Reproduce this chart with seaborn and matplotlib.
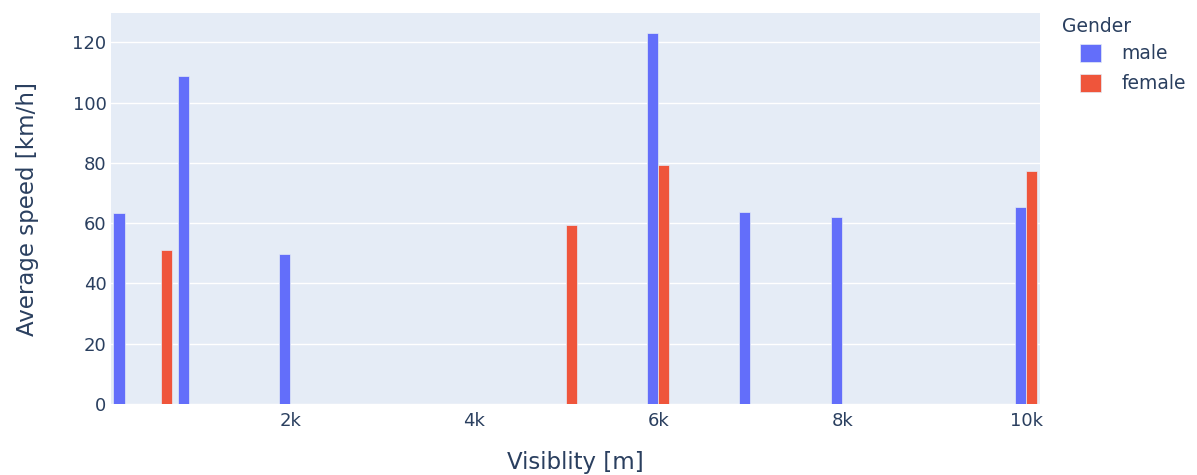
import matplotlib
matplotlib.use("Agg")
import matplotlib.pyplot as plt
import seaborn as sns
import pandas as pd

# ---- data ----
male_visibility = [200, 900, 2000, 6000, 7000, 8000, 10000]
male_speed = [63.3, 108.9, 49.7, 123.1, 63.8, 62.1, 65.3]
female_visibility = [600, 5000, 6000, 10000]
female_speed = [51.1, 59.4, 79.4, 77.3]
genders = ["male", "female"]
x_ticks = [2000, 4000, 6000, 8000, 10000]
x_tick_labels = ["2k", "4k", "6k", "8k", "10k"]
y_ticks = [0, 20, 40, 60, 80, 100, 120]

df = pd.DataFrame({
    "Visibility": male_visibility + female_visibility,
    "Speed": male_speed + female_speed,
    "Gender": ["male"] * len(male_visibility) + ["female"] * len(female_visibility),
})

text_color = "#2a3f5f"
sns.set_theme(style="darkgrid", rc={
    "axes.facecolor": "#E5ECF6",
    "grid.color": "white",
    "grid.linewidth": 1.0,
    "axes.edgecolor": "none",
    "figure.facecolor": "white",
    "xtick.color": text_color,
    "ytick.color": text_color,
    "axes.labelcolor": text_color,
    "text.color": text_color,
})
plt.rcParams["font.family"] = ["DejaVu Sans"]

W, H = 1197, 475
fig = plt.figure(figsize=(W / 100, H / 100), dpi=100)
ax = fig.add_axes([110.7 / W, 71 / H, (1040 - 110.7) / W, (404 - 13.3) / H])

sns.barplot(data=df, x="Visibility", y="Speed", hue="Gender", hue_order=genders,
            palette={"male": "#636EFA", "female": "#EF553B"},
            native_scale=True, errorbar=None, width=0.8, dodge=True,
            edgecolor="#E5ECF6", linewidth=0.5, saturation=1, ax=ax)

ax.set_xlim(50, 10150)
ax.set_ylim(0, 129.6)
ax.set_xticks(x_ticks)
ax.set_xticklabels(x_tick_labels)
ax.set_yticks(y_ticks)
ax.xaxis.grid(False)
ax.yaxis.grid(True)
ax.tick_params(axis="both", length=0, labelsize=13)
ax.tick_params(axis="y", pad=3)
ax.tick_params(axis="x", pad=6)
ax.set_xlabel("Visiblity [m]", fontsize=16.5, labelpad=15)
ax.set_ylabel("Average speed [km/h]", fontsize=16.5, labelpad=24)

handles, labels = ax.get_legend_handles_labels()
old = ax.get_legend()
if old is not None:
    old.remove()
leg = fig.legend(handles, labels, loc="upper left",
                 bbox_to_anchor=(1080 / W, 1 - 44 / H), bbox_transform=fig.transFigure,
                 frameon=False, fontsize=13.5,
                 handlelength=1.1, handleheight=1.1, handletextpad=1.1,
                 labelspacing=0.55, borderaxespad=0, borderpad=0)
fig.text(1062 / W, 1 - 17 / H, "Gender", fontsize=13.5, ha="left", va="top", color=text_color)

fig.savefig("out.png", dpi=100)
